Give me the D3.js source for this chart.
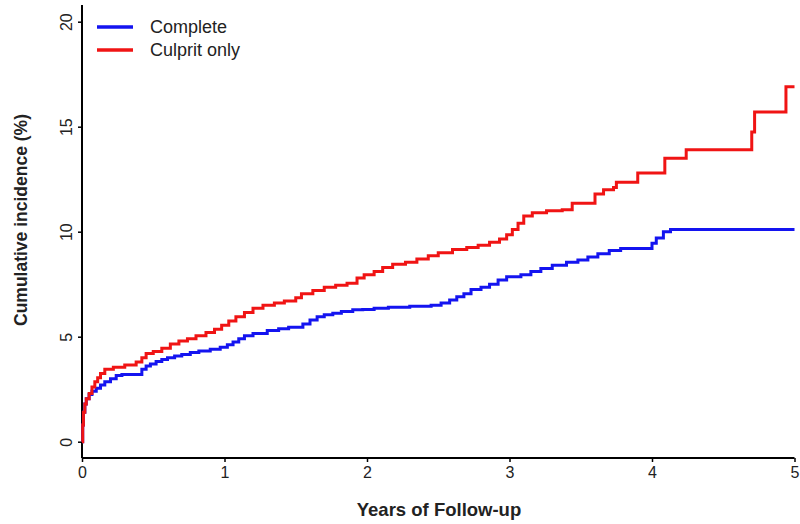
<!DOCTYPE html>
<html>
<head>
<meta charset="utf-8">
<script src="https://cdn.jsdelivr.net/npm/d3@7"></script>
<style>
  body { margin: 0; background: #fff; }
  svg { font-family: "Liberation Sans", Arial, sans-serif; }
</style>
</head>
<body>
<script>
// cumulative incidence, [years, percent] step points
var completeSteps = [
  [0,0],[0.005,0.8],[0.01,1.4],[0.02,1.8],[0.03,2.05],[0.05,2.25],[0.07,2.4],[0.1,2.55],
  [0.13,2.7],[0.16,2.85],[0.2,3.0],[0.24,3.15],[0.28,3.2],[0.42,3.45],[0.45,3.6],[0.48,3.7],
  [0.52,3.82],[0.56,3.92],[0.6,4.0],[0.65,4.08],[0.7,4.15],[0.76,4.25],[0.82,4.32],[0.9,4.4],
  [0.97,4.5],[1.02,4.62],[1.06,4.75],[1.1,4.9],[1.14,5.05],[1.2,5.15],[1.3,5.3],[1.38,5.38],
  [1.45,5.45],[1.55,5.6],[1.6,5.8],[1.65,5.95],[1.7,6.05],[1.76,6.12],[1.82,6.2],[1.9,6.28],
  [1.97,6.3],[2.05,6.35],[2.15,6.4],[2.3,6.45],[2.45,6.5],[2.52,6.6],[2.58,6.75],[2.63,6.9],
  [2.68,7.05],[2.73,7.25],[2.8,7.35],[2.86,7.5],[2.92,7.7],[2.98,7.85],[3.08,7.95],[3.15,8.1],
  [3.22,8.25],[3.3,8.4],[3.4,8.55],[3.48,8.65],[3.55,8.8],[3.62,8.95],[3.7,9.1],[3.78,9.2],
  [4.0,9.45],[4.03,9.7],[4.08,10.0],[4.13,10.1],[5.0,10.1]
];
var culpritSteps = [
  [0,0],[0.005,0.8],[0.01,1.4],[0.02,1.8],[0.03,2.05],[0.05,2.3],[0.07,2.6],[0.09,2.85],
  [0.11,3.05],[0.13,3.25],[0.16,3.45],[0.22,3.55],[0.3,3.65],[0.38,3.8],[0.42,4.0],[0.45,4.2],
  [0.5,4.3],[0.56,4.45],[0.62,4.65],[0.68,4.8],[0.74,4.9],[0.8,5.05],[0.87,5.2],[0.93,5.35],
  [0.98,5.55],[1.03,5.75],[1.08,5.95],[1.14,6.15],[1.2,6.35],[1.27,6.5],[1.35,6.6],[1.42,6.7],
  [1.5,6.85],[1.54,7.05],[1.62,7.2],[1.7,7.35],[1.78,7.45],[1.86,7.55],[1.93,7.8],[1.98,7.95],
  [2.05,8.1],[2.11,8.3],[2.18,8.45],[2.27,8.55],[2.35,8.7],[2.43,8.85],[2.5,9.0],[2.6,9.15],
  [2.7,9.25],[2.78,9.35],[2.86,9.5],[2.93,9.65],[2.98,9.85],[3.02,10.1],[3.06,10.4],[3.1,10.75],
  [3.16,10.9],[3.26,11.0],[3.37,11.05],[3.44,11.35],[3.6,11.8],[3.66,12.0],[3.73,12.1],[3.75,12.35],
  [3.9,12.8],[4.09,13.5],[4.24,13.9],[4.7,14.75],[4.72,15.7],[4.94,16.9],[5.0,16.9]
];
var seriesNames = ['Complete', 'Culprit only'];
var seriesColors = ['#1414f0', '#f01414'];
var xTicks = [0, 1, 2, 3, 4, 5];
var yTicks = [0, 5, 10, 15, 20];

var width = 800, height = 524;
var svg = d3.select('body').append('svg')
    .attr('width', width)
    .attr('height', height);

var x = d3.scaleLinear().domain([0, 5]).range([82, 794.5]);
var y = d3.scaleLinear().domain([0, 20]).range([441.7, 21.7]);
var axisY = 458;

// axis lines
svg.append('line')
    .attr('x1', x(0)).attr('x2', x(0))
    .attr('y1', 5).attr('y2', axisY)
    .attr('stroke', '#000').attr('stroke-width', 2);
svg.append('line')
    .attr('x1', x(0)).attr('x2', x(5))
    .attr('y1', axisY).attr('y2', axisY)
    .attr('stroke', '#000').attr('stroke-width', 2);

var xAxis = svg.append('g')
    .attr('transform', 'translate(0,' + axisY + ')')
    .call(d3.axisBottom(x).tickValues(xTicks).tickSize(4).tickPadding(5).tickFormat(d3.format('d')));
xAxis.select('.domain').remove();
xAxis.selectAll('text').attr('font-size', 16).attr('fill', '#222').attr('font-family', null);
xAxis.selectAll('line').attr('stroke-width', 1.5);

var yAxis = svg.append('g')
    .attr('transform', 'translate(' + x(0) + ',0)')
    .call(d3.axisLeft(y).tickValues(yTicks).tickSize(4).tickFormat(d3.format('d')));
yAxis.select('.domain').remove();
yAxis.selectAll('line').attr('stroke-width', 1.5);
yAxis.selectAll('text')
    .attr('font-size', 16).attr('fill', '#222').attr('font-family', null)
    .attr('x', null).attr('dy', null)
    .attr('text-anchor', 'middle')
    .attr('transform', 'translate(-10,0) rotate(-90)');

// curves
var line = d3.line()
    .x(function (d) { return x(d[0]); })
    .y(function (d) { return y(d[1]); })
    .curve(d3.curveStepAfter);

[completeSteps, culpritSteps].forEach(function (s, i) {
    svg.append('path')
        .datum(s)
        .attr('d', line)
        .attr('fill', 'none')
        .attr('stroke', seriesColors[i])
        .attr('stroke-width', 3);
});

// legend
seriesNames.forEach(function (name, i) {
    var ly = 27 + i * 23;
    svg.append('line')
        .attr('x1', 97).attr('x2', 133)
        .attr('y1', ly).attr('y2', ly)
        .attr('stroke', seriesColors[i]).attr('stroke-width', 3.5);
    svg.append('text')
        .attr('x', 150).attr('y', ly + 6)
        .attr('font-size', 18).attr('fill', '#222')
        .text(name);
});

// titles
svg.append('text')
    .attr('x', 439).attr('y', 516)
    .attr('text-anchor', 'middle')
    .attr('font-size', 18.5).attr('font-weight', 'bold').attr('fill', '#222')
    .text('Years of Follow-up');
svg.append('text')
    .attr('transform', 'translate(27,220) rotate(-90)')
    .attr('text-anchor', 'middle')
    .attr('font-size', 17.5).attr('font-weight', 'bold').attr('fill', '#222')
    .text('Cumulative incidence (%)');
</script>
</body>
</html>
